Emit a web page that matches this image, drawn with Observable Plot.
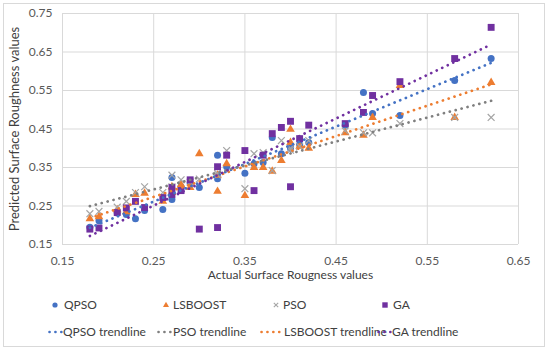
<!DOCTYPE html>
<html><head><meta charset="utf-8">
<script src="https://cdn.jsdelivr.net/npm/d3@7"></script>
<script src="https://cdn.jsdelivr.net/npm/@observablehq/plot@0.6"></script>
<style>
body{margin:0;background:#fff;font-family:Lato,"Open Sans",sans-serif;}
#wrap{position:relative;width:550px;height:351px;overflow:hidden;background:#fff;}
#frame{position:absolute;left:3px;top:3px;width:542px;height:344px;border:1px solid #d9d9d9;box-sizing:border-box;}
#chart{position:absolute;left:0;top:0;}
.leg{position:absolute;font-size:12px;color:#404040;white-space:nowrap;line-height:14px;height:14px;}
.leg svg{position:absolute;top:0;}
</style></head><body>
<div id="wrap"><div id="frame"></div><div id="chart"></div><div id="legend"></div></div>
<script>
const actual  = [0.18,0.19,0.21,0.22,0.23,0.24,0.26,0.27,0.27,0.28,0.29,0.30,0.32,0.32,0.33,0.35,0.36,0.37,0.38,0.39,0.40,0.40,0.41,0.42,0.46,0.48,0.49,0.52,0.58,0.62];
const qpso    = [0.195,0.212,0.232,0.228,0.217,0.238,0.241,0.324,0.267,0.300,0.310,0.298,0.382,0.321,0.352,0.335,0.360,0.363,0.428,0.386,0.400,0.405,0.410,0.415,0.460,0.545,0.490,0.485,0.576,0.633];
const lsboost = [0.217,0.222,0.240,0.235,0.280,0.283,0.262,0.300,0.285,0.305,0.298,0.386,0.288,0.330,0.360,0.277,0.350,0.350,0.340,0.368,0.449,0.415,0.405,0.400,0.440,0.434,0.480,0.563,0.480,0.571];
const pso     = [0.230,0.236,0.247,0.262,0.285,0.300,0.285,0.330,0.300,0.318,0.312,0.320,0.330,0.335,0.394,0.295,0.386,0.389,0.342,0.420,0.400,0.395,0.405,0.420,0.445,0.440,0.440,0.464,0.480,0.480];
const ga      = [0.190,0.193,0.233,0.245,0.262,0.246,0.272,0.298,0.280,0.290,0.318,0.190,0.352,0.194,0.382,0.394,0.290,0.382,0.438,0.454,0.300,0.470,0.425,0.460,0.464,0.493,0.537,0.573,0.633,0.714];

const seriesNames  = ["QPSO","LSBOOST","PSO","GA"];
const seriesValues = [qpso, lsboost, pso, ga];
const seriesColors = ["#4472C4","#ED7D31","#A5A5A5","#7030A0"];
const seriesSymbols = ["circle","triangle","times","square"];
const trendNames  = ["QPSO trendline","PSO trendline","LSBOOST trendline","GA trendline"];
const trendSeries = ["QPSO","PSO","LSBOOST","GA"];
const trendColors = ["#4472C4","#7F7F7F","#ED7D31","#7030A0"];
const xTicks = [0.15,0.25,0.35,0.45,0.55,0.65];
const yTicks = [0.15,0.25,0.35,0.45,0.55,0.65,0.75];
const xTitle = "Actual Surface Rougness values";
const yTitle = "Predicted Surface Roughness values";

const rows = [];
seriesNames.forEach((s, k) => actual.forEach((a, i) => rows.push({series: s, actual: a, predicted: seriesValues[k][i]})));
const bySeries = s => rows.filter(d => d.series === s);
const fmt = d => d.toFixed(2);

const marks = [
  Plot.gridX(xTicks, {stroke: "#d9d9d9", strokeOpacity: 1}),
  Plot.gridY(yTicks, {stroke: "#d9d9d9", strokeOpacity: 1}),
  Plot.axisX(xTicks, {tickSize: 0, tickPadding: 12, tickFormat: fmt, label: null, fontSize: 12, fill: "#595959"}),
  Plot.axisY(yTicks, {tickSize: 0, tickPadding: 10, tickFormat: fmt, label: null, fontSize: 12, fill: "#595959"}),
  Plot.text([xTitle], {frameAnchor: "bottom", dy: 34, fontSize: 12, fill: "#404040"}),
  Plot.text([yTitle], {frameAnchor: "left", dx: -48, rotate: -90, textAnchor: "middle", fontSize: 13, fill: "#404040"})
];
seriesNames.forEach((s, k) => {
  const sym = seriesSymbols[k];
  const opts = {x: "actual", y: "predicted", symbol: sym};
  if (sym === "times") Object.assign(opts, {stroke: seriesColors[k], strokeWidth: 1.2, r: 3.2});
  else if (sym === "triangle") Object.assign(opts, {fill: seriesColors[k], r: 3.2});
  else if (sym === "square") Object.assign(opts, {fill: seriesColors[k], r: 3.9});
  else Object.assign(opts, {fill: seriesColors[k], r: 3.5});
  marks.push(Plot.dot(bySeries(s), opts));
});
trendSeries.forEach((s, k) => {
  marks.push(Plot.linearRegressionY(bySeries(s), {x: "actual", y: "predicted", ci: 0, stroke: trendColors[k], strokeWidth: 2.7, strokeDasharray: "0.1 6", strokeLinecap: "round"}));
});

const chart = Plot.plot({
  width: 550, height: 290,
  marginLeft: 62, marginRight: 32, marginTop: 13, marginBottom: 46,
  style: {fontFamily: "Lato, 'Open Sans', sans-serif", fontSize: "12px", background: "transparent", overflow: "visible"},
  x: {domain: [0.15, 0.65]},
  y: {domain: [0.15, 0.75]},
  marks
});
document.getElementById("chart").appendChild(chart);

// legend
const legend = document.getElementById("legend");
const row1 = [{m: 55, t: 64}, {m: 166, t: 173}, {m: 276, t: 283}, {m: 385, t: 393}];
const row2 = [{m: 48, t: 63}, {m: 157, t: 173}, {m: 260, t: 284}, {m: 377, t: 392}];
function markerSvg(sym, color) {
  if (sym === "circle") return `<svg width="8" height="14" style="left:-4px"><circle cx="4" cy="7" r="2.6" fill="${color}"/></svg>`;
  if (sym === "triangle") return `<svg width="8" height="14" style="left:-4px"><path d="M4 3.8 L7 9 L1 9Z" fill="${color}"/></svg>`;
  if (sym === "times") return `<svg width="8" height="14" style="left:-4px"><path d="M1.8 4.8 L6.2 9.2 M6.2 4.8 L1.8 9.2" stroke="${color}" stroke-width="1.1"/></svg>`;
  return `<svg width="8" height="14" style="left:-4px"><rect x="1.3" y="4.3" width="5.4" height="5.4" fill="${color}"/></svg>`;
}
seriesNames.forEach((s, k) => {
  const d = document.createElement("div");
  d.className = "leg";
  d.style.left = row1[k].m + "px"; d.style.top = (305 - 7) + "px";
  d.innerHTML = markerSvg(seriesSymbols[k], seriesColors[k]) + `<span style="position:absolute;left:${row1[k].t - row1[k].m}px;top:0">${s}</span>`;
  legend.appendChild(d);
});
trendNames.forEach((s, k) => {
  const d = document.createElement("div");
  d.className = "leg";
  d.style.left = row2[k].m + "px"; d.style.top = (332 - 7) + "px";
  const w = row2[k].t - row2[k].m;
  d.innerHTML = `<svg width="${w}" height="14" style="left:0"><line x1="1.5" y1="7" x2="${w - 1}" y2="7" stroke="${trendColors[k]}" stroke-width="2.6" stroke-linecap="round" stroke-dasharray="0.1 5.8"/></svg><span style="position:absolute;left:${w}px;top:0">${s}</span>`;
  legend.appendChild(d);
});
</script>
</body></html>
